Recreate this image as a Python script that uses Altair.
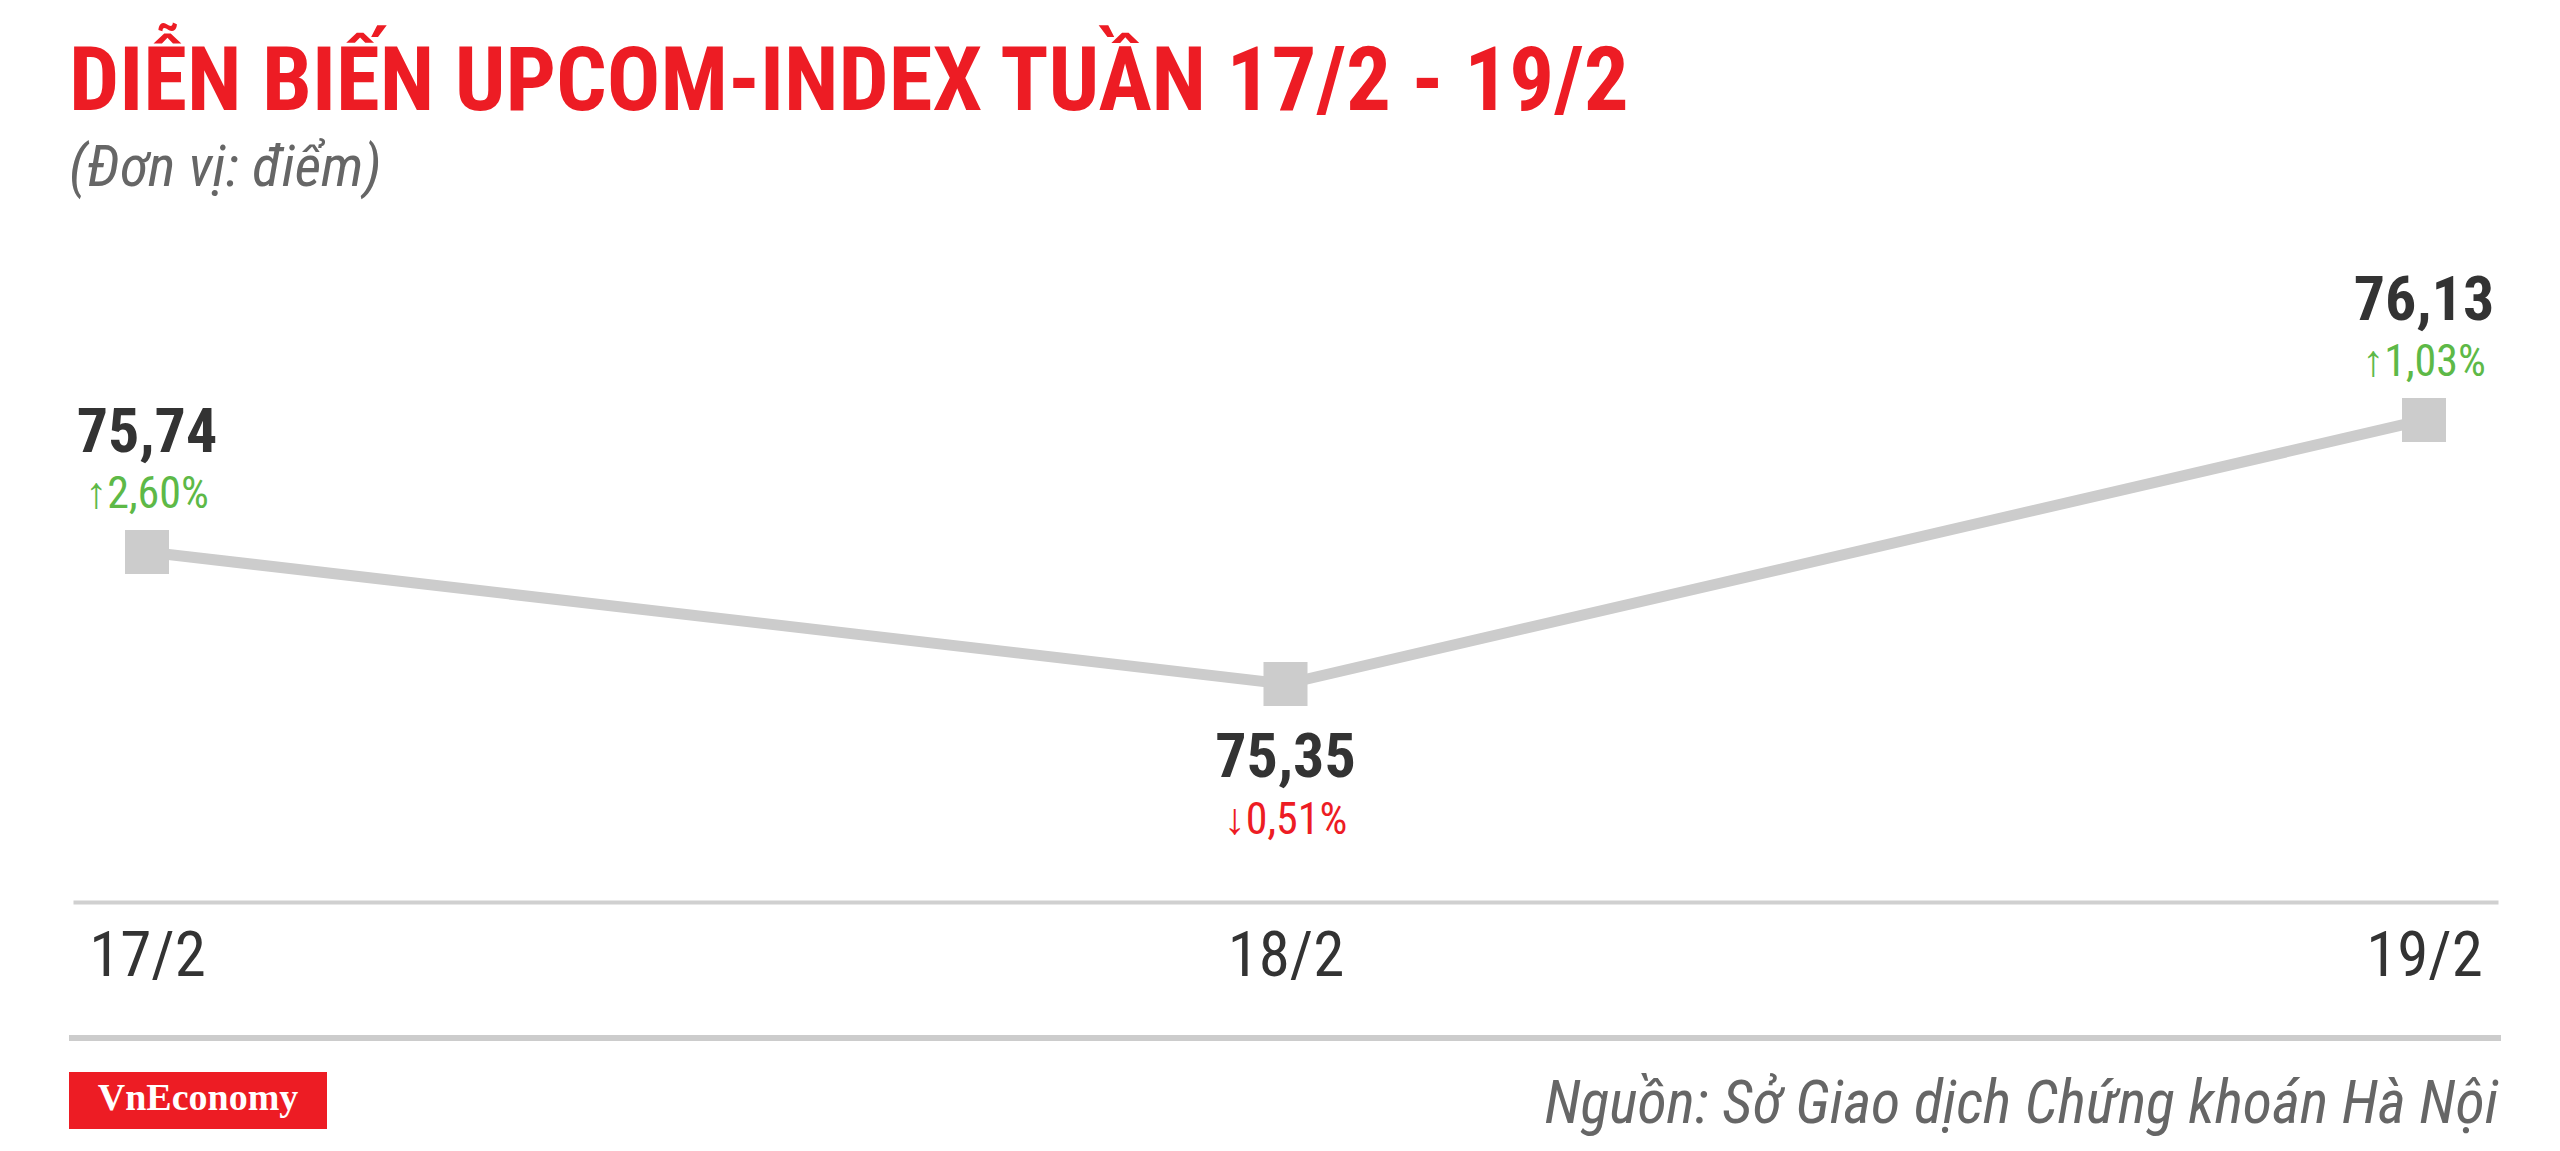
import altair as alt
import pandas as pd

# ---- data ----
dates = ["17/2", "18/2", "19/2"]
values = [75.74, 75.35, 76.13]
changes = [2.60, -0.51, 1.03]

TITLE = "DIỄN BIẾN UPCOM-INDEX TUẦN 17/2 - 19/2"
SUBTITLE = "(Đơn vị: điểm)"
SOURCE = "Nguồn: Sở Giao dịch Chứng khoán Hà Nội"
LOGO = "VnEconomy"


def vn(x):
    return f"{x:.2f}".replace(".", ",")


df = pd.DataFrame({
    "date": dates,
    "value": values,
    "change": changes,
    "vlabel": [vn(v) for v in values],
    "plabel": [("↑" if c >= 0 else "↓") + vn(abs(c)) + "%" for c in changes],
})

NARROW = "Liberation Sans Narrow, Roboto Condensed, Roboto, sans-serif"
RED = "#ED1C24"
GREEN = "#5DB947"
DARK = "#333333"
GRAY = "#CCCCCC"

x = alt.X("date:N", sort=dates,
          scale=alt.Scale(type="point", padding=0.065),
          axis=alt.Axis(title=None, labelAngle=0, ticks=False, tickSize=0,
                        labelFont=NARROW, labelFontSize=63, labelColor=DARK,
                        labelBaseline="alphabetic", labelPadding=73,
                        domainColor="#D0D0D0", domainWidth=4, grid=False))
y = alt.Y("value:Q", scale=alt.Scale(domain=[74.706, 76.898], zero=False, nice=False),
          axis=None)

base = alt.Chart(df)

line = base.mark_line(color=GRAY, strokeWidth=11).encode(x=x, y=y)
pts = base.mark_square(color=GRAY, size=1936, opacity=1, filled=True).encode(x=x, y=y)

up = base.transform_filter("datum.change >= 0")
down = base.transform_filter("datum.change < 0")

up_val = up.mark_text(font=NARROW, fontWeight="bold", fontSize=62, color=DARK,
                      baseline="alphabetic", dy=-100).encode(x=x, y=y, text="vlabel:N")
up_pct = up.mark_text(font=NARROW, fontSize=44, color=GREEN,
                      baseline="alphabetic", dy=-44).encode(x=x, y=y, text="plabel:N")
dn_val = down.mark_text(font=NARROW, fontWeight="bold", fontSize=62, color=DARK,
                        baseline="alphabetic", dy=93).encode(x=x, y=y, text="vlabel:N")
dn_pct = down.mark_text(font=NARROW, fontSize=44, color=RED,
                        baseline="alphabetic", dy=150).encode(x=x, y=y, text="plabel:N")

# ---- decorations: title, subtitle, separator, logo, source ----
deco = alt.Chart(pd.DataFrame({"t": [TITLE], "s": [SUBTITLE], "src": [SOURCE], "logo": [LOGO]}))

title = deco.mark_text(font=NARROW, fontWeight="bold", fontSize=89, color=RED,
                       align="left", baseline="alphabetic").encode(
    x=alt.value(-4), y=alt.value(-50), text="t:N")
subtitle = deco.mark_text(font=NARROW, fontStyle="italic", fontSize=58, color="#666666",
                          align="left", baseline="alphabetic").encode(
    x=alt.value(-4), y=alt.value(26), text="s:N")
sep = deco.mark_rule(color=GRAY, strokeWidth=6).encode(
    x=alt.value(-4), x2=alt.value(2428), y=alt.value(878))
logo_box = deco.mark_rect(color=RED).encode(
    x=alt.value(-4), x2=alt.value(254), y=alt.value(912), y2=alt.value(969))
logo_txt = deco.mark_text(font="Liberation Serif, DejaVu Serif, serif", fontWeight="bold",
                          fontSize=38, color="white", align="center",
                          baseline="alphabetic").encode(
    x=alt.value(125), y=alt.value(950), text="logo:N")
source = deco.mark_text(font=NARROW, fontStyle="italic", fontSize=60, color="#666666",
                        align="right", baseline="alphabetic").encode(
    x=alt.value(2425), y=alt.value(963), text="src:N")

chart = alt.layer(
    line, pts, up_val, up_pct, dn_val, dn_pct,
    title, subtitle, sep, logo_box, logo_txt, source
).properties(
    width=2425, height=742,
    autosize=alt.AutoSizeParams(type="none"),
    padding={"left": 65, "top": 152, "right": 54, "bottom": 241},
    background="white",
).configure_view(strokeWidth=0)

chart.save("out.html", embed_options={"renderer": "svg", "actions": False})
